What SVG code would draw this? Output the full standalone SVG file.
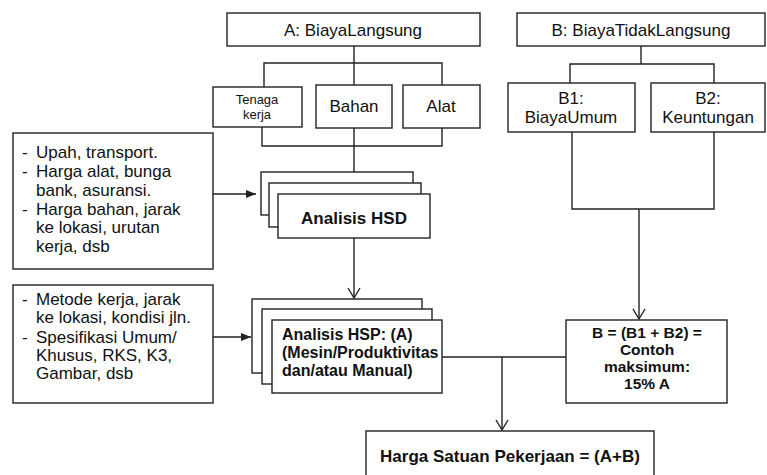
<svg xmlns="http://www.w3.org/2000/svg" width="767" height="475" viewBox="0 0 767 475">
<style>
 .box{fill:#fff;stroke:#222;stroke-width:1.4}
 .ln{fill:none;stroke:#222;stroke-width:1.4}
 text{font-family:"Liberation Sans",Arial,sans-serif;fill:#111;font-size:17px}
 .b{font-weight:bold}
 .m{text-anchor:middle}
 .s{font-size:13px}
 .hsp{font-size:16px;font-weight:bold}
 .eq{font-size:15.5px;font-weight:bold}
</style>
<defs>
 <marker id="fill" markerWidth="11" markerHeight="9" refX="10" refY="4.5" orient="auto" markerUnits="userSpaceOnUse"><path d="M0,0.5 L10,4.5 L0,8.5 Z" fill="#222"/></marker>
 <marker id="open" markerWidth="14" markerHeight="14" refX="12" refY="7" orient="auto" markerUnits="userSpaceOnUse"><path d="M2,1 L12,7 L2,13" fill="none" stroke="#222" stroke-width="1.4"/></marker>
</defs>
<rect width="767" height="475" fill="#fff"/>

<g id="connectors">
 <path class="ln" d="M354,46 V85 M264,87 V63 H442 V85"/>
 <path class="ln" d="M641,46 V64 M570,83 V64 H714 V83"/>
 <path class="ln" d="M262,127 V146 H442 V128 M354,128 V172"/>
 <path class="ln" d="M213,194 H256" marker-end="url(#fill)"/>
 <path class="ln" d="M354,238 V298" marker-end="url(#open)"/>
 <path class="ln" d="M213,337 H251" marker-end="url(#fill)"/>
 <path class="ln" d="M572,132 V209 H714 V132"/>
 <path class="ln" d="M639,209 V319" marker-end="url(#open)"/>
 <path class="ln" d="M442,357 H566"/>
 <path class="ln" d="M502,357 V430" marker-end="url(#open)"/>
</g>

<g id="nodeA">
 <rect class="box" x="227" y="13" width="253" height="33"/>
 <text class="m" x="353" y="36">A: BiayaLangsung</text>
</g>
<g id="nodeTenaga">
 <rect class="box" x="213" y="87" width="89" height="40"/>
 <text class="m s" x="257" y="104">Tenaga</text>
 <text class="m s" x="257" y="119">kerja</text>
</g>
<g id="nodeBahan">
 <rect class="box" x="316" y="85" width="76" height="43"/>
 <text class="m" x="354" y="112">Bahan</text>
</g>
<g id="nodeAlat">
 <rect class="box" x="403" y="85" width="77" height="43"/>
 <text class="m" x="441" y="112">Alat</text>
</g>
<g id="nodeB">
 <rect class="box" x="517" y="13" width="248" height="33"/>
 <text class="m" x="641" y="36">B: BiayaTidakLangsung</text>
</g>
<g id="nodeB1">
 <rect class="box" x="508" y="83" width="127" height="49"/>
 <text class="m" x="571" y="104">B1:</text>
 <text class="m" x="571" y="123">BiayaUmum</text>
</g>
<g id="nodeB2">
 <rect class="box" x="651" y="83" width="114" height="49"/>
 <text class="m" x="708" y="104">B2:</text>
 <text class="m" x="708" y="123">Keuntungan</text>
</g>
<g id="nodeInput1">
 <rect class="box" x="13" y="133" width="200" height="136"/>
 <text><tspan x="22" y="158">-</tspan><tspan x="36" y="158">Upah, transport.</tspan></text>
 <text><tspan x="22" y="177">-</tspan><tspan x="36" y="177">Harga alat, bunga</tspan></text>
 <text x="36" y="196">bank, asuransi.</text>
 <text><tspan x="22" y="215">-</tspan><tspan x="36" y="215">Harga bahan, jarak</tspan></text>
 <text x="36" y="233">ke lokasi, urutan</text>
 <text x="36" y="252">kerja, dsb</text>
</g>
<g id="nodeHSD">
 <rect class="box" x="261" y="172" width="152" height="43"/>
 <rect class="box" x="269" y="183" width="152" height="44"/>
 <rect class="box" x="278" y="194" width="152" height="44"/>
 <text class="m b" x="354" y="224">Analisis HSD</text>
</g>
<g id="nodeInput2">
 <rect class="box" x="13" y="285" width="200" height="118"/>
 <text><tspan x="22" y="305">-</tspan><tspan x="36" y="305">Metode kerja, jarak</tspan></text>
 <text x="36" y="323">ke lokasi, kondisi jln.</text>
 <text><tspan x="22" y="343">-</tspan><tspan x="36" y="343">Spesifikasi Umum/</tspan></text>
 <text x="36" y="361">Khusus, RKS, K3,</text>
 <text x="36" y="379">Gambar, dsb</text>
</g>
<g id="nodeHSP">
 <rect class="box" x="252" y="299" width="170" height="74"/>
 <rect class="box" x="262" y="309" width="170" height="75"/>
 <rect class="box" x="272" y="320" width="170" height="73"/>
 <text class="hsp" x="282" y="340">Analisis HSP: (A)</text>
 <text class="hsp" x="282" y="358">(Mesin/Produktivitas</text>
 <text class="hsp" x="282" y="376">dan/atau Manual)</text>
</g>
<g id="nodeBsum">
 <rect class="box" x="566" y="320" width="161" height="83"/>
 <text class="m eq" x="647" y="338">B = (B1 + B2) =</text>
 <text class="m eq" x="647" y="355">Contoh</text>
 <text class="m eq" x="647" y="372">maksimum:</text>
 <text class="m eq" x="647" y="389">15% A</text>
</g>
<g id="nodeHarga">
 <rect class="box" x="366" y="431" width="288" height="50"/>
 <text class="m b" x="510" y="462">Harga Satuan Pekerjaan = (A+B)</text>
</g>
</svg>
